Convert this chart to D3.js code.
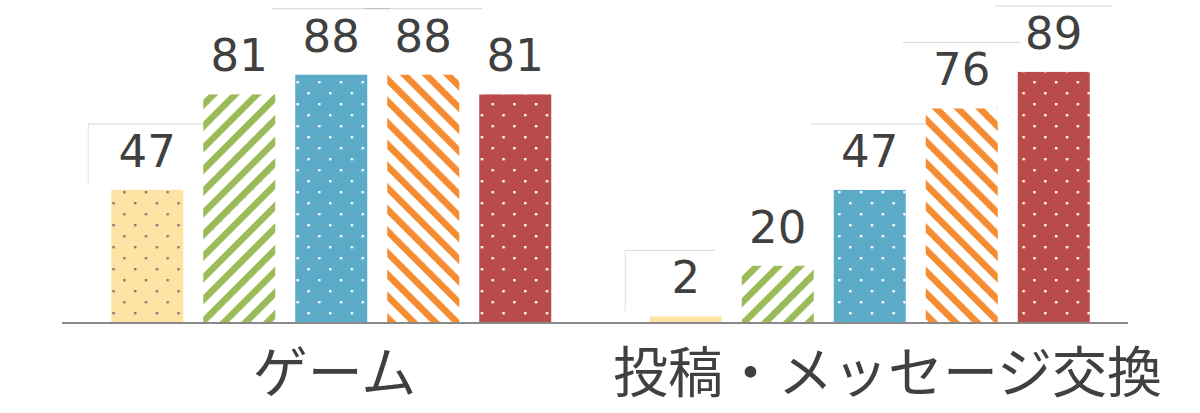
<!DOCTYPE html>
<html>
<head>
<meta charset="utf-8">
<script src="https://cdn.jsdelivr.net/npm/d3@7"></script>
<style>
  html, body { margin: 0; padding: 0; background: #fff; }
  svg { display: block; }
</style>
</head>
<body>
<div class="chart"></div>
<script>
// data
const categories = ['ゲーム', '投稿・メッセージ交換'];
const seriesNames = ['系列1', '系列2', '系列3', '系列4', '系列5'];
const gameValues = [47, 81, 88, 88, 81];
const postValues = [2, 20, 47, 76, 89];
const valuesByCategory = [gameValues, postValues];

// which value labels show the faint frame of their text box
const framed = [[true, false, true, true, false], [true, false, true, true, true]];

const width = 1200;
const height = 413;

const svg = d3.select('.chart')
  .append('svg')
  .attr('width', width)
  .attr('height', height);

const defs = svg.append('defs');

function dots(id, bg, dot) {
  const p = defs.append('pattern')
    .attr('id', id)
    .attr('patternUnits', 'userSpaceOnUse')
    .attr('width', 21.67)
    .attr('height', 22);
  p.append('rect').attr('width', 21.67).attr('height', 22).attr('fill', bg);
  p.append('rect').attr('x', 4).attr('y', 4).attr('width', 2.4).attr('height', 2.4).attr('fill', dot);
  p.append('rect').attr('x', 14.8).attr('y', 15).attr('width', 2.4).attr('height', 2.4).attr('fill', dot);
}

function stripes(id, color, angle) {
  const s = 15.32;
  const p = defs.append('pattern')
    .attr('id', id)
    .attr('patternUnits', 'userSpaceOnUse')
    .attr('width', s)
    .attr('height', s)
    .attr('patternTransform', 'rotate(' + angle + ')');
  p.append('rect').attr('width', s).attr('height', s).attr('fill', '#fff');
  p.append('rect').attr('width', 6.6).attr('height', s).attr('fill', color);
}

dots('p0', '#fee3a4', '#857a6e');
stripes('p1', '#9bbb59', 45);
dots('p2', '#5aaac8', '#ffffff');
stripes('p3', '#f58c32', -45);
dots('p4', '#b94c4a', '#ffffff');
const fills = ['url(#p0)', 'url(#p1)', 'url(#p2)', 'url(#p3)', 'url(#p4)'];

const x0 = d3.scaleBand().domain(categories).range([62, 1139]);
const x1 = d3.scaleBand().domain(seriesNames).range([-230, 230])
  .paddingInner(20 / 92).paddingOuter(10 / 92);
const xLabel = d3.scaleBand().domain(categories).range([58, 1164]);
const y = d3.scaleLinear().domain([0, 100]).range([322, 41]);

const rows = [];
categories.forEach((c, ci) => {
  seriesNames.forEach((s, si) => {
    rows.push({
      cat: c, ci: ci, ser: s, si: si,
      value: valuesByCategory[ci][si],
      framed: framed[ci][si]
    });
  });
});
const barX = d => x0(d.cat) + x0.bandwidth() / 2 + x1(d.ser);
const barC = d => barX(d) + x1.bandwidth() / 2;

// label frames (drawn first, bars cover them)
const frames = svg.append('g');
rows.filter(d => d.framed).forEach(d => {
  const w = String(d.value).length * 29 + 60;
  const base = y(d.value) - 23;
  const left = barC(d) - w / 2 - (d.value < 10 ? 16 : 0);
  frames.append('line')
    .attr('x1', left).attr('x2', left + w)
    .attr('y1', base - 43).attr('y2', base - 43)
    .attr('stroke', 'rgba(0,0,0,0.16)').attr('stroke-width', 1);
  if (d.si === 0) {
    frames.append('line')
      .attr('x1', left).attr('x2', left)
      .attr('y1', base - 43).attr('y2', base + 18)
      .attr('stroke', 'rgba(0,0,0,0.12)').attr('stroke-width', 1);
  }
});

svg.append('g')
  .selectAll('rect')
  .data(rows)
  .enter()
  .append('rect')
  .attr('x', barX)
  .attr('y', d => y(d.value))
  .attr('width', x1.bandwidth())
  .attr('height', d => y(0) - y(d.value))
  .attr('fill', d => fills[d.si]);

svg.append('g')
  .selectAll('text')
  .data(rows)
  .enter()
  .append('text')
  .attr('x', barC)
  .attr('y', d => y(d.value) - 23)
  .attr('text-anchor', 'middle')
  .attr('font-family', '"DejaVu Sans", Verdana, sans-serif')
  .attr('font-size', 45)
  .attr('fill', '#404040')
  .text(d => d.value);

// category axis
const axis = svg.append('g')
  .attr('transform', 'translate(0,' + 323 + ')')
  .call(d3.axisBottom(xLabel).tickSize(0).tickPadding(0));
axis.select('.domain').remove();
axis.append('line')
  .attr('x1', 62).attr('x2', 1128)
  .attr('stroke', '#898989').attr('stroke-width', 2);
axis.selectAll('.tick text')
  .attr('dy', null)
  .attr('y', 69)
  .attr('font-family', '"Noto Sans CJK JP", sans-serif')
  .attr('font-size', 55)
  .attr('fill', '#404040');
</script>
</body>
</html>
